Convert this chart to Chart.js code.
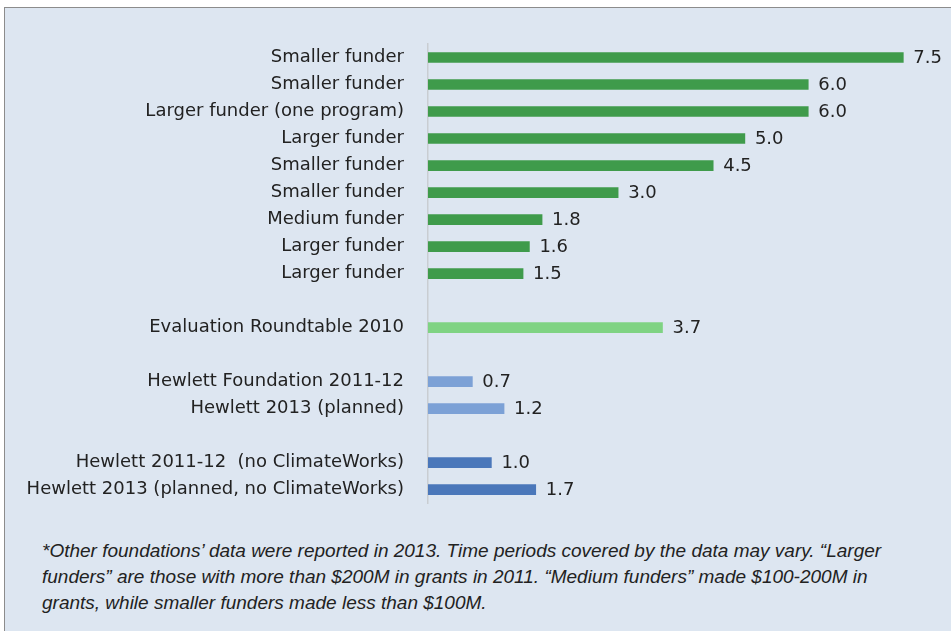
<!DOCTYPE html>
<html lang="en">
<head>
  <meta charset="UTF-8">
  <title>Grant spending comparison</title>
  <script src="https://cdn.jsdelivr.net/npm/chart.js"></script>
  <style>
    body {
      margin: 0;
      background: #fff;
      font-family: "DejaVu Sans", sans-serif;
    }
    .frame {
      position: absolute;
      left: 4px;
      top: 7px;
      width: 980px;
      height: 660px;
      background: #dde6f1;
      border: 1.5px solid #8c8c8c;
    }
    #chart {
      position: absolute;
      left: 0;
      top: 0;
    }
    .note {
      position: absolute;
      left: 42px;
      top: 538px;
      width: 900px;
      font-family: "Liberation Sans Narrow", "Liberation Sans", sans-serif;
      font-style: italic;
      font-size: 19px;
      line-height: 26px;
      color: #222;
    }
  </style>
</head>
<body>
  <div class="frame"></div>
  <canvas id="chart" width="951" height="538"></canvas>
  <div class="note">*Other foundations’ data were reported in 2013. Time periods covered by the data may vary. “Larger<br>funders” are those with more than $200M in grants in 2011. “Medium funders” made $100-200M in<br>grants, while smaller funders made less than $100M.</div>
  <script>
    // empty labels are spacer rows between groups
    const labels = [
      'Smaller funder', 'Smaller funder', 'Larger funder (one program)', 'Larger funder',
      'Smaller funder', 'Smaller funder', 'Medium funder', 'Larger funder', 'Larger funder',
      '',
      'Evaluation Roundtable 2010',
      '',
      'Hewlett Foundation 2011-12', 'Hewlett 2013 (planned)',
      '',
      'Hewlett 2011-12  (no ClimateWorks)', 'Hewlett 2013 (planned, no ClimateWorks)'
    ];
    const values = [7.5, 6.0, 6.0, 5.0, 4.5, 3.0, 1.8, 1.6, 1.5, null, 3.7, null, 0.7, 1.2, null, 1.0, 1.7];
    const barColors = [
      '#3f9b4b', '#3f9b4b', '#3f9b4b', '#3f9b4b', '#3f9b4b', '#3f9b4b', '#3f9b4b', '#3f9b4b', '#3f9b4b',
      null, '#7fd383', null, '#7ca1d6', '#7ca1d6', null, '#4a77ba', '#4a77ba'
    ];
    const barThickness = [10, 10, 10, 10, 10, 10, 10, 10, 10, 10, 10, 10, 10, 10, 10, 12, 12];

    const valueLabels = {
      id: 'valueLabels',
      afterDatasetsDraw(chart) {
        const ctx = chart.ctx;
        const meta = chart.getDatasetMeta(0);
        ctx.save();
        ctx.font = '18px "DejaVu Sans", sans-serif';
        ctx.fillStyle = '#222';
        ctx.textBaseline = 'middle';
        meta.data.forEach((bar, i) => {
          if (values[i] == null) return;
          ctx.fillText(values[i].toFixed(1), bar.x + 10, bar.y + 1);
        });
        ctx.restore();
      }
    };

    new Chart(document.getElementById('chart'), {
      type: 'bar',
      data: {
        labels: labels,
        datasets: [{
          data: values,
          backgroundColor: barColors,
          barThickness: barThickness
        }]
      },
      options: {
        indexAxis: 'y',
        responsive: false,
        animation: false,
        layout: { padding: { top: 44, bottom: 9, right: 16 } },
        plugins: { legend: { display: false }, tooltip: { enabled: false } },
        scales: {
          x: { display: false, min: 0, max: 8 },
          y: {
            afterFit(scale) { scale.width = 428; },
            grid: { display: false, drawTicks: false },
            border: { display: true, color: '#c9cdd2', width: 1.5 },
            ticks: {
              padding: 24,
              color: '#222',
              font: { family: '"DejaVu Sans", sans-serif', size: 18 }
            }
          }
        }
      },
      plugins: [valueLabels]
    });
  </script>
</body>
</html>
